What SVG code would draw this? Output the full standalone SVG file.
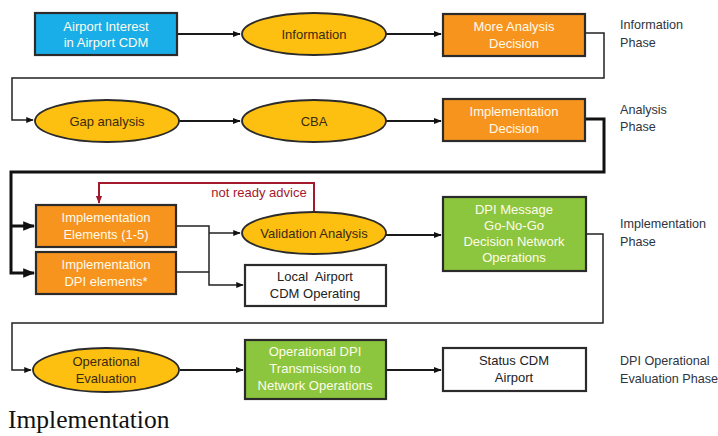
<svg xmlns="http://www.w3.org/2000/svg" width="718" height="436" viewBox="0 0 718 436">
<style>
.box{stroke:#2b2b2b;stroke-width:2.2}
.blue{fill:#1aaee9}
.orange{fill:#f7941e}
.green{fill:#8cc63e}
.white{fill:#ffffff}
.ell{fill:#fdbf10;stroke:#2b2b2b;stroke-width:1.8}
.t{font-family:"Liberation Sans",Arial,sans-serif;font-size:13px;text-anchor:middle}
.lt{fill:#fffbea}
.dk{fill:#3a2a12}
.bk{fill:#222}
.ph{font-family:"Liberation Sans",Arial,sans-serif;font-size:12.6px;fill:#2e3440}
.c{fill:none;stroke:#1a1a1a;stroke-width:2}
.c3{fill:none;stroke:#111;stroke-width:3}
.c1{fill:none;stroke:#222;stroke-width:1.5}
</style>
<defs>
<marker id="ah" viewBox="0 0 10 10" refX="9" refY="5" markerWidth="4" markerHeight="4" orient="auto" markerUnits="strokeWidth"><path d="M0,1 L10,5 L0,9 z" fill="#111"/></marker>
<marker id="ahs" viewBox="0 0 10 10" refX="9" refY="5" markerWidth="5" markerHeight="5" orient="auto" markerUnits="strokeWidth"><path d="M0,1 L10,5 L0,9 z" fill="#111"/></marker>
<marker id="ahr" viewBox="0 0 10 10" refX="9" refY="5" markerWidth="4" markerHeight="4" orient="auto" markerUnits="strokeWidth"><path d="M0,1 L10,5 L0,9 z" fill="#a3192d"/></marker>
</defs>

<g id="connectors">
<path class="c" d="M177,34 H240" marker-end="url(#ah)"/>
<path class="c" d="M386,34 H441" marker-end="url(#ah)"/>
<path class="c1" d="M585,33 H604 V78 H12 V120 H33" marker-end="url(#ahs)"/>
<path class="c" d="M178,121 H240" marker-end="url(#ah)"/>
<path class="c" d="M386,121 H441" marker-end="url(#ah)"/>
<path class="c3" d="M585,119 H604 V172 H11 V273 H34" marker-end="url(#ah)"/>
<path class="c3" d="M11,226 H34" marker-end="url(#ah)"/>
<path fill="none" stroke="#a3192d" stroke-width="2" d="M314,212 V183 H99 V203" marker-end="url(#ahr)"/>
<path class="c1" d="M176,226 H209 V285 H243" marker-end="url(#ahs)"/>
<path class="c1" d="M176,272 H209"/>
<path class="c1" d="M209,233 H240" marker-end="url(#ahs)"/>
<path class="c" d="M386,235 H441" marker-end="url(#ah)"/>
<path class="c1" d="M586,234 H603 V323 H12 V370 H31" marker-end="url(#ahs)"/>
<path class="c" d="M180,370 H243" marker-end="url(#ah)"/>
<path class="c" d="M386,370 H441" marker-end="url(#ah)"/>
<text x="259" y="197" font-family="Liberation Sans,Arial,sans-serif" font-size="13" fill="#a3192d" text-anchor="middle">not ready advice</text>
</g>

<g id="n-airport-interest">
<rect class="box blue" x="35" y="13" width="142" height="42"/>
<text class="t lt" x="106" y="31">Airport Interest</text>
<text class="t lt" x="106" y="47">in Airport CDM</text>
</g>
<g id="n-information">
<ellipse class="ell" cx="314" cy="34" rx="72" ry="21"/>
<text class="t dk" x="314" y="39">Information</text>
</g>
<g id="n-more-analysis">
<rect class="box orange" x="443" y="14" width="142" height="42"/>
<text class="t lt" x="514" y="31">More Analysis</text>
<text class="t lt" x="514" y="48">Decision</text>
</g>
<g id="n-gap">
<ellipse class="ell" cx="107" cy="121" rx="72" ry="21"/>
<text class="t dk" x="107" y="126">Gap analysis</text>
</g>
<g id="n-cba">
<ellipse class="ell" cx="314" cy="121" rx="72" ry="21"/>
<text class="t dk" x="314" y="126">CBA</text>
</g>
<g id="n-impl-decision">
<rect class="box orange" x="443" y="99" width="142" height="42"/>
<text class="t lt" x="514" y="116">Implementation</text>
<text class="t lt" x="514" y="133">Decision</text>
</g>
<g id="n-impl-elements">
<rect class="box orange" x="36" y="205" width="140" height="42"/>
<text class="t lt" x="106" y="222">Implementation</text>
<text class="t lt" x="106" y="239">Elements (1-5)</text>
</g>
<g id="n-impl-dpi">
<rect class="box orange" x="36" y="252" width="140" height="42"/>
<text class="t lt" x="106" y="269">Implementation</text>
<text class="t lt" x="106" y="286">DPI elements*</text>
</g>
<g id="n-validation">
<ellipse class="ell" cx="314" cy="233" rx="72" ry="21"/>
<text class="t dk" x="314" y="238">Validation Analysis</text>
</g>
<g id="n-local-airport">
<rect class="box white" x="245" y="265" width="141" height="41"/>
<text class="t bk" x="315" y="281" style="white-space:pre">Local  Airport</text>
<text class="t bk" x="315" y="298">CDM Operating</text>
</g>
<g id="n-dpi-message">
<rect class="box green" x="443" y="197" width="143" height="74"/>
<text class="t lt" x="514" y="214">DPI Message</text>
<text class="t lt" x="514" y="230">Go-No-Go</text>
<text class="t lt" x="514" y="246">Decision Network</text>
<text class="t lt" x="514" y="262">Operations</text>
</g>
<g id="n-op-eval">
<ellipse class="ell" cx="106" cy="370" rx="73" ry="22"/>
<text class="t dk" x="106" y="366">Operational</text>
<text class="t dk" x="106" y="383">Evaluation</text>
</g>
<g id="n-op-dpi">
<rect class="box green" x="245" y="340" width="141" height="59"/>
<text class="t lt" x="315" y="356">Operational DPI</text>
<text class="t lt" x="315" y="373">Transmission to</text>
<text class="t lt" x="315" y="390">Network Operations</text>
</g>
<g id="n-status">
<rect class="box white" x="443" y="348" width="143" height="43"/>
<text class="t bk" x="514" y="365">Status CDM</text>
<text class="t bk" x="514" y="382">Airport</text>
</g>

<g id="phases">
<text class="ph" x="620" y="29">Information</text>
<text class="ph" x="620" y="47">Phase</text>
<text class="ph" x="620" y="114">Analysis</text>
<text class="ph" x="620" y="131">Phase</text>
<text class="ph" x="620" y="228">Implementation</text>
<text class="ph" x="620" y="246">Phase</text>
<text class="ph" x="620" y="365">DPI Operational</text>
<text class="ph" x="620" y="383">Evaluation Phase</text>
</g>
<text x="8" y="428" font-family="Liberation Serif,'Times New Roman',serif" font-size="25.5" fill="#111">Implementation</text>
</svg>
